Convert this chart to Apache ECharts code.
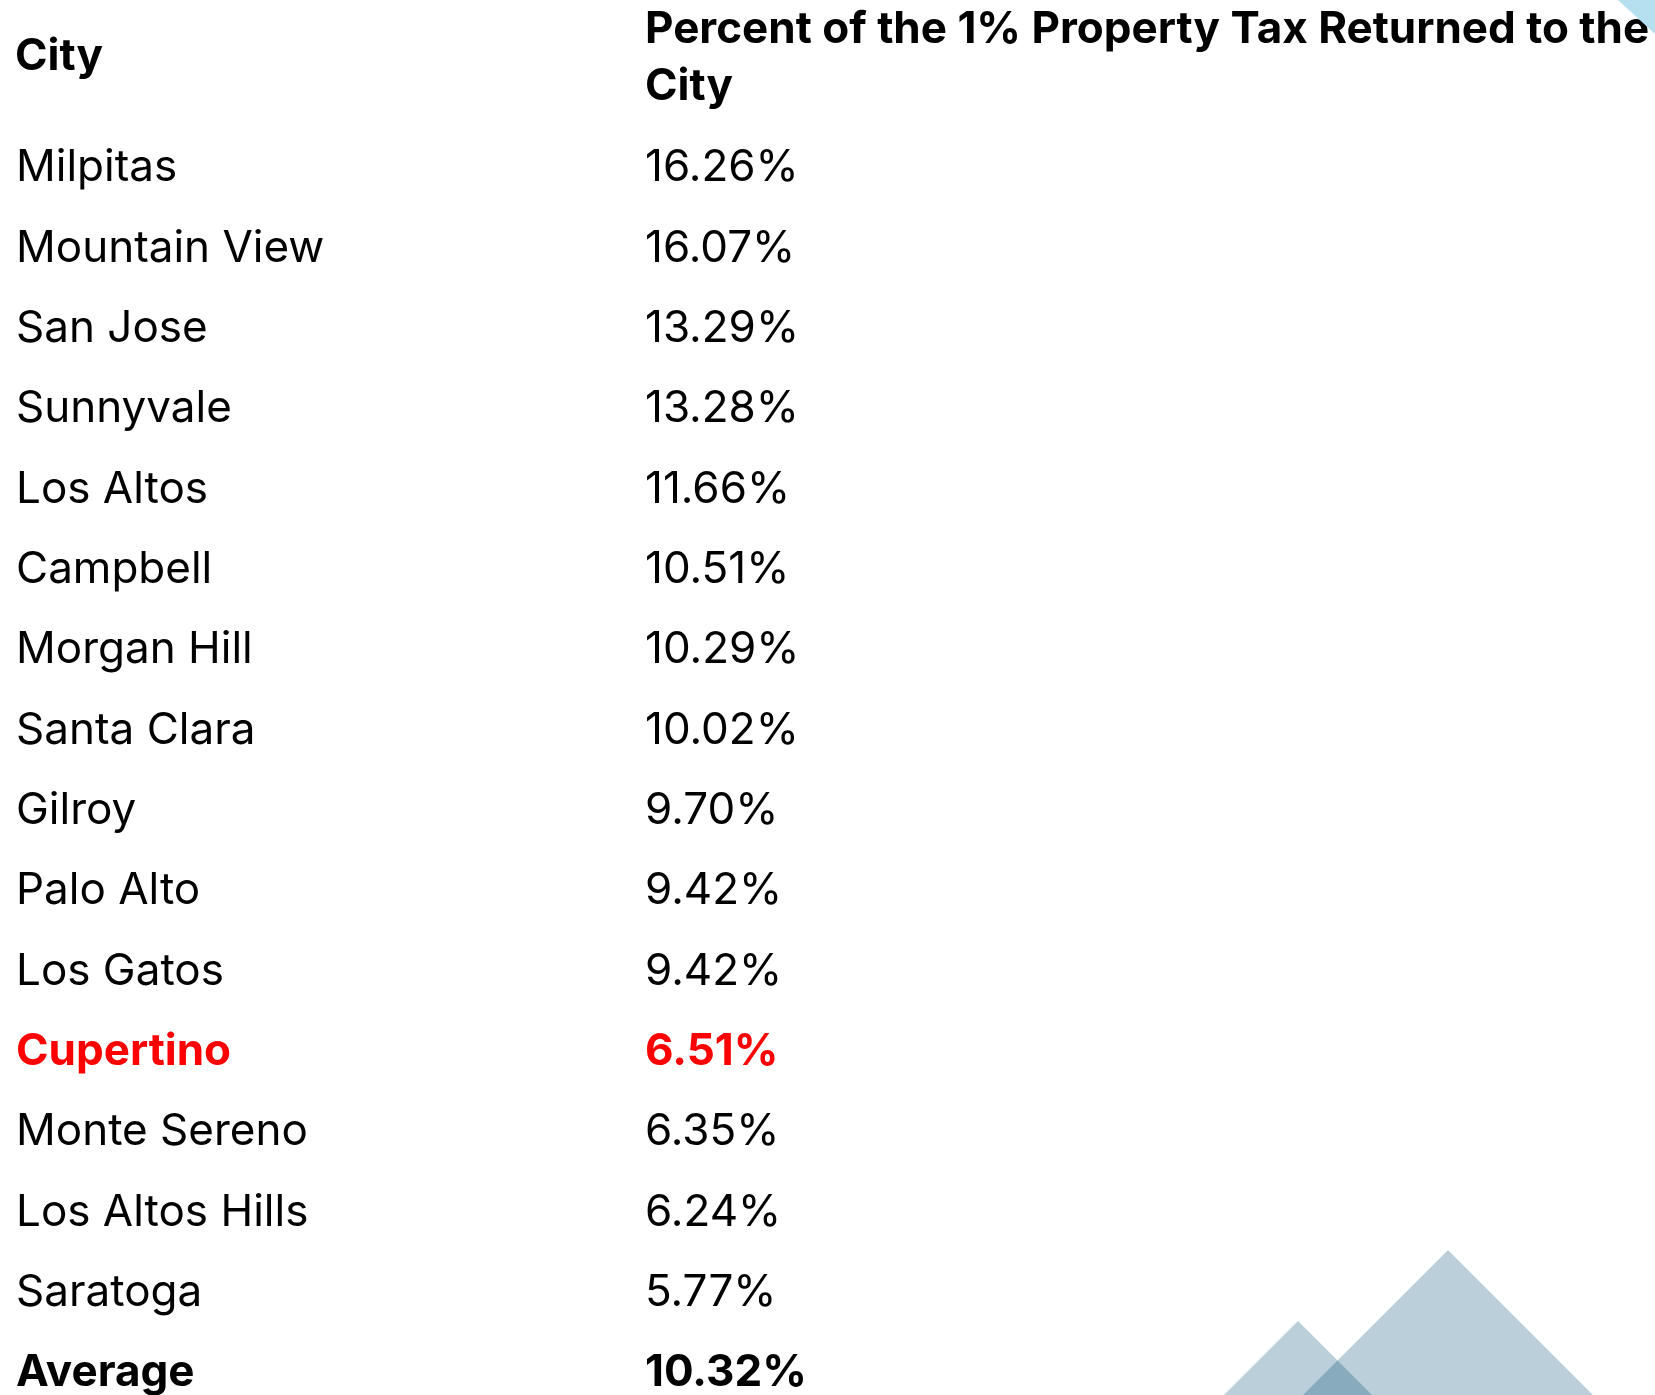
<!DOCTYPE html>
<html>
<head>
<meta charset="utf-8">
<script src="https://cdn.jsdelivr.net/npm/echarts@6/dist/echarts.min.js"></script>
<style>
    html, body {
        margin: 0;
        padding: 0;
        background: #ffffff;
    }

    #tax_table {
        width: 1655px;
        height: 1395px;
    }
</style>
</head>
<body>
<div id="tax_table"></div>
<script>
const cities = ['Milpitas', 'Mountain View', 'San Jose', 'Sunnyvale', 'Los Altos', 'Campbell', 'Morgan Hill', 'Santa Clara', 'Gilroy', 'Palo Alto', 'Los Gatos', 'Cupertino', 'Monte Sereno', 'Los Altos Hills', 'Saratoga', 'Average']
const percents = [16.26, 16.07, 13.29, 13.28, 11.66, 10.51, 10.29, 10.02, 9.70, 9.42, 9.42, 6.51, 6.35, 6.24, 5.77, 10.32]
const highlightCity = 'Cupertino'
const totalRow = 'Average'
const colHeaders = ['City', 'Percent of the 1% Property Tax Returned to the\nCity']

const fontFamily = 'Inter'
const fontSize = 44

let myChart = echarts.init(document.getElementById('tax_table'), null, { renderer: 'canvas' })

let valueLabels = percents.map(v => v.toFixed(2) + '%')

function styleKey(name) {
    if (name === highlightCity) return 'red'
    if (name === totalRow) return 'bold'
    return 'normal'
}

let richStyles = {
    normal: { fontFamily: fontFamily, fontSize: fontSize, color: '#000000' },
    red: { fontFamily: fontFamily, fontSize: fontSize, color: '#ff0000', fontWeight: 'bold' },
    bold: { fontFamily: fontFamily, fontSize: fontSize, color: '#000000', fontWeight: 'bold' }
}

// triangles in the corners (decoration only)
const triSingle = '#bacfda'
const triOverlap = '#88abbd'

myChart.setOption({
    backgroundColor: '#ffffff',
    animation: false,
    title: [
        {
            text: colHeaders[0],
            left: 15,
            top: 32,
            padding: 0,
            textStyle: { fontFamily: fontFamily, fontSize: fontSize, fontWeight: 'bold', color: '#000000', lineHeight: 50 }
        },
        {
            text: colHeaders[1],
            left: 645,
            top: 1,
            padding: 0,
            textStyle: { fontFamily: fontFamily, fontSize: fontSize, fontWeight: 'bold', color: '#000000', lineHeight: 57 }
        }
    ],
    grid: {
        left: 16,
        top: 168,
        width: 1600,
        height: 1206
    },
    xAxis: {
        type: 'value',
        min: 0,
        max: 20,
        show: false
    },
    yAxis: [
        {
            type: 'category',
            inverse: true,
            boundaryGap: false,
            data: cities,
            axisLine: { show: false },
            axisTick: { show: false },
            splitLine: { show: false },
            axisLabel: {
                inside: true,
                margin: 0,
                align: 'left',
                interval: 0,
                formatter: function (name) {
                    return '{' + styleKey(name) + '|' + name + '}'
                },
                rich: richStyles
            }
        },
        {
            type: 'category',
            inverse: true,
            boundaryGap: false,
            position: 'left',
            offset: -629,
            data: valueLabels,
            axisLine: { show: false },
            axisTick: { show: false },
            splitLine: { show: false },
            axisLabel: {
                inside: true,
                margin: 0,
                align: 'left',
                interval: 0,
                formatter: function (label, idx) {
                    return '{' + styleKey(cities[idx]) + '|' + label + '}'
                },
                rich: richStyles
            }
        }
    ],
    series: [
        {
            type: 'scatter',
            yAxisIndex: 0,
            symbolSize: 0,
            silent: true,
            data: percents.map((v, i) => [v, cities[i]])
        }
    ],
    graphic: [
        {
            type: 'polygon',
            z: 100,
            shape: { points: [[1618, 0], [1655, 0], [1655, 34]] },
            style: { fill: '#b4e0f0' }
        },
        {
            type: 'polygon',
            z: 100,
            shape: { points: [[1298, 1321], [1372, 1395], [1224, 1395]] },
            style: { fill: triSingle }
        },
        {
            type: 'polygon',
            z: 100,
            shape: { points: [[1448, 1250], [1593, 1395], [1303, 1395]] },
            style: { fill: triSingle }
        },
        {
            type: 'polygon',
            z: 101,
            shape: { points: [[1337.5, 1360.5], [1372, 1395], [1303, 1395]] },
            style: { fill: triOverlap }
        }
    ]
})
</script>
</body>
</html>
